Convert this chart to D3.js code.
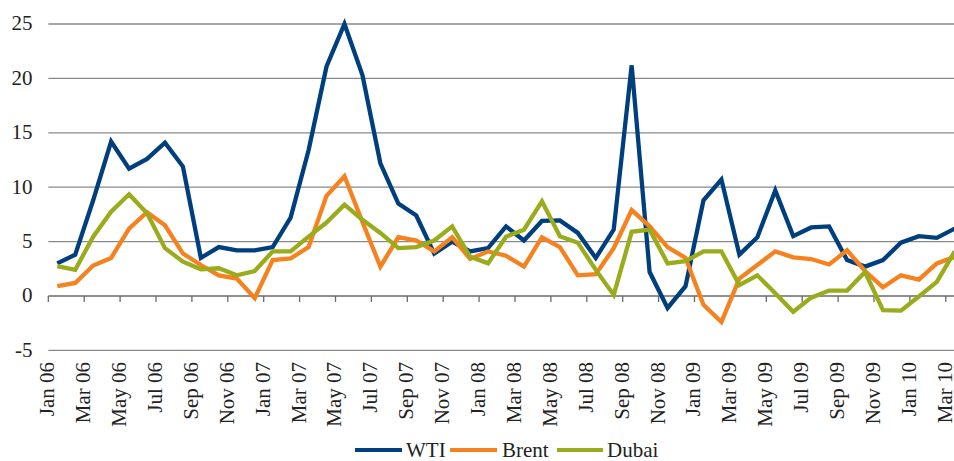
<!DOCTYPE html>
<html>
<head>
<meta charset="utf-8">
<script src="https://cdn.jsdelivr.net/npm/d3@7"></script>
<style>
  html, body { margin: 0; padding: 0; background: #fff; }
  svg { display: block; font-family: "Liberation Serif", "Times New Roman", serif; }
</style>
</head>
<body>
<svg id="chart" width="954" height="461"></svg>
<script>
// months Jan 06 .. Mar 10
const months = [
  "Jan 06","Feb 06","Mar 06","Apr 06","May 06","Jun 06","Jul 06","Aug 06","Sep 06","Oct 06","Nov 06","Dec 06",
  "Jan 07","Feb 07","Mar 07","Apr 07","May 07","Jun 07","Jul 07","Aug 07","Sep 07","Oct 07","Nov 07","Dec 07",
  "Jan 08","Feb 08","Mar 08","Apr 08","May 08","Jun 08","Jul 08","Aug 08","Sep 08","Oct 08","Nov 08","Dec 08",
  "Jan 09","Feb 09","Mar 09","Apr 09","May 09","Jun 09","Jul 09","Aug 09","Sep 09","Oct 09","Nov 09","Dec 09",
  "Jan 10","Feb 10","Mar 10"
];

const wti = [
  3.0, 3.8, 8.8, 14.2, 11.7, 12.6, 14.1, 11.9, 3.5, 4.5, 4.2, 4.2,
  4.5, 7.2, 13.4, 21.1, 25.0, 20.3, 12.2, 8.5, 7.4, 3.9, 5.0, 4.1,
  4.4, 6.4, 5.1, 6.9, 6.95, 5.8, 3.5, 6.1, 21.2, 2.2, -1.1, 0.9,
  8.8, 10.7, 3.8, 5.4, 9.7, 5.5, 6.3, 6.4, 3.3, 2.7, 3.3, 4.9,
  5.5, 5.35, 6.2
];
const brent = [
  0.9, 1.2, 2.8, 3.5, 6.2, 7.7, 6.5, 3.9, 2.85, 1.9, 1.6, -0.2,
  3.3, 3.45, 4.5, 9.2, 11.0, 6.8, 2.7, 5.4, 5.1, 4.1, 5.4, 3.4,
  4.1, 3.7, 2.7, 5.4, 4.5, 1.9, 2.0, 4.4, 7.9, 6.4, 4.5, 3.5,
  -0.8, -2.4, 1.6, 2.85, 4.1, 3.55, 3.4, 2.9, 4.2, 2.3, 0.8, 1.9,
  1.5, 3.0, 3.6
];
const dubai = [
  2.75, 2.4, 5.45, 7.75, 9.35, 7.6, 4.4, 3.15, 2.45, 2.55, 1.9, 2.3,
  4.1, 4.1, 5.45, 6.75, 8.4, 7.0, 5.8, 4.4, 4.5, 5.1, 6.4, 3.6,
  3.0, 5.45, 6.1, 8.7, 5.5, 4.9, 2.4, 0.1, 5.9, 6.1, 3.0, 3.2,
  4.1, 4.1, 1.0, 1.9, 0.25, -1.45, -0.15, 0.5, 0.5, 2.2, -1.3, -1.35,
  -0.05, 1.3, 4.1
];

const yTicks = [-5, 0, 5, 10, 15, 20, 25];

const series = [
  {name: "WTI",   values: wti,   color: "#003f7d"},
  {name: "Brent", values: brent, color: "#f5821f"},
  {name: "Dubai", values: dubai, color: "#9aab1c"}
];

// レイアウト
const plotLeft = 48.3, plotTop = 24, plotBottom = 350.4;
const bandW = 17.95;
const svg = d3.select("#chart");

const x = d3.scaleBand()
  .domain(months)
  .range([plotLeft, plotLeft + bandW * months.length])
  .paddingInner(0).paddingOuter(0);
const y = d3.scaleLinear().domain([-5, 25]).range([plotBottom, plotTop]);

// gridlines
svg.append("g")
  .selectAll("line")
  .data(yTicks.filter(d => d !== 0))
  .join("line")
  .attr("x1", plotLeft).attr("x2", 954)
  .attr("y1", d => y(d)).attr("y2", d => y(d))
  .attr("stroke", "#8a8a8a").attr("stroke-width", 1.3);

// y labels
svg.append("g")
  .selectAll("text")
  .data(yTicks)
  .join("text")
  .attr("x", 32.5).attr("y", d => y(d))
  .attr("dy", "0.3em")
  .attr("text-anchor", "end")
  .attr("font-size", 21)
  .attr("fill", "#222")
  .text(d => d);

// category axis at 0
const zeroY = y(0);
svg.append("line")
  .attr("x1", plotLeft).attr("x2", 954)
  .attr("y1", zeroY).attr("y2", zeroY)
  .attr("stroke", "#6a6a6a").attr("stroke-width", 1.3);
svg.append("g")
  .selectAll("line")
  .data(months.filter((d, i) => i % 2 === 0))
  .join("line")
  .attr("x1", d => x(d)).attr("x2", d => x(d))
  .attr("y1", zeroY).attr("y2", zeroY + 6)
  .attr("stroke", "#6a6a6a").attr("stroke-width", 1.3);

// x labels (rotated, baseline just left of category centre)
svg.append("g")
  .selectAll("text")
  .data(months.filter((d, i) => i % 2 === 0))
  .join("text")
  .attr("transform", d => `translate(${x(d) + bandW / 2 - 3},${plotBottom + 11.5}) rotate(-90)`)
  .attr("text-anchor", "end")
  .attr("font-size", 21)
  .attr("fill", "#222")
  .text(d => d);

// lines
const line = d3.line()
  .x((d, i) => x(months[i]) + bandW / 2)
  .y(d => y(d));

svg.append("g")
  .selectAll("path")
  .data(series)
  .join("path")
  .attr("d", d => line(d.values))
  .attr("fill", "none")
  .attr("stroke", d => d.color)
  .attr("stroke-width", 4.3)
  .attr("stroke-linejoin", "miter");

// legend
const legendItems = [
  {name: "WTI",   x1: 355, x2: 402, tx: 406},
  {name: "Brent", x1: 450, x2: 497, tx: 502},
  {name: "Dubai", x1: 557, x2: 603, tx: 607}
];
const lg = svg.append("g");
legendItems.forEach((it, i) => {
  lg.append("line")
    .attr("x1", it.x1).attr("x2", it.x2)
    .attr("y1", 450).attr("y2", 450)
    .attr("stroke", series[i].color).attr("stroke-width", 4);
  lg.append("text")
    .attr("x", it.tx).attr("y", 457)
    .attr("font-size", 21).attr("fill", "#222")
    .text(it.name);
});
</script>
</body>
</html>
